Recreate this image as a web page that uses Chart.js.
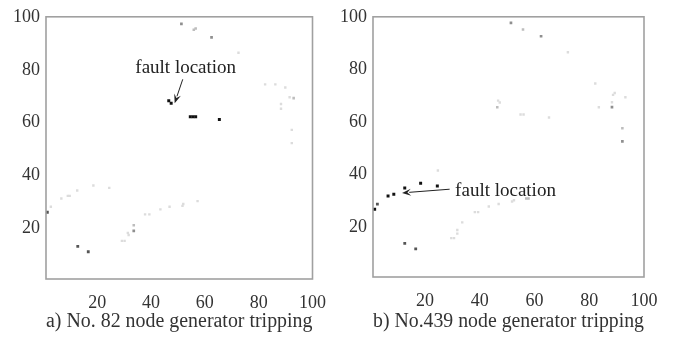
<!DOCTYPE html>
<html>
<head>
<meta charset="utf-8">
<script src="https://cdn.jsdelivr.net/npm/chart.js@4.4.0/dist/chart.umd.min.js"></script>
<style>
  html, body { margin: 0; padding: 0; background: #fff; }
  #wrap { position: relative; width: 678px; height: 343px; overflow: hidden; }
  .panel { position: absolute; top: 0; }
</style>
</head>
<body>
<div id="wrap">
  <div class="panel" style="left:0"><canvas id="ca" width="339" height="343"></canvas></div>
  <div class="panel" style="left:339px"><canvas id="cb" width="339" height="343"></canvas></div>
</div>
<script>
// ---- tick labels ----
const xTicks = [20, 40, 60, 80, 100];
const yTicks = [20, 40, 60, 80, 100];
const axisMin = 1, axisMax = 100;

// ---- captions / annotation text ----
const captionA = 'a) No. 82 node generator tripping';
const captionB = 'b) No.439 node generator tripping';
const faultLabel = 'fault location';

// ---- panel a points, grouped by shade ----
const aBlack = [[46.6,68.3],[47.5,67.4],[54.6,62.3],[55.6,62.3],[56.6,62.3],[65.4,61.2]];
const aDark  = [[12.8,13.3],[16.7,11.3],[1.5,26.2]];
const aMid   = [[51.3,97.3],[62.5,92.2],[33.6,19.2]];
const aLight = [[55.9,95.1],[56.6,95.6],[33.6,21.3],[93,69.3]];
const aFaint = [[2.8,28.3],[6.7,31.4],[9.1,32.4],[9.8,32.4],[12.6,34.4],[18.6,36.3],[24.5,35.4],
  [29.2,15.4],[30.2,15.4],[31.4,18.4],[31.7,17.6],[37.8,25.4],[39.4,25.4],[43.5,27.3],[46.9,28.3],
  [52,29.3],[51.7,28.6],[57.3,30.4],[72.5,86.4],[82.4,74.5],[86.2,74.5],[89.9,73.3],[91.5,69.6],
  [88.3,67.1],[88.3,65.3],[92.3,57.3],[92.3,52.3]];

// ---- panel b points, grouped by shade ----
const bBlack = [[1.6,26.8],[6.5,31.8],[8.6,32.5],[12.6,34.9],[18.4,36.7],[24.5,35.6]];
const bDark  = [[2.6,28.7],[12.6,13.8],[16.6,11.7]];
const bMid   = [[51.4,97.7],[62.4,92.6],[88.3,65.6],[92.1,52.6]];
const bLight = [[55.8,95.2],[46.4,65.6],[92.1,57.6],[57,30.9],[57.8,30.9]];
const bFaint = [[72.2,86.5],[82.2,74.6],[88.7,70.3],[89.3,71],[93.2,69.4],[88.3,67.5],[83.5,65.6],
  [46.7,68.1],[47.3,67.4],[54.9,62.8],[56,62.8],[65.3,61.7],[24.7,41.5],[29.6,15.8],[30.6,15.8],
  [31.8,18.9],[31.8,17.5],[33.6,21.8],[38.2,25.7],[39.4,25.7],[43.3,27.8],[46.9,28.8],[51.8,29.7],
  [52.5,30.2]];

// ---- annotation anchors (data coords) ----
const annA = { text: [52.9, 80.8], from: [51.8, 76.4], to: [48.8, 67.4], align: 'center' };
const annB = { text: [31.0, 33.8], from: [29.0, 34.4], to: [11.6, 33.0], align: 'left' };

const toPts = arr => arr.map(p => ({ x: p[0], y: p[1] }));
const shades = [
  { key: 'Faint', color: '#dcdcdc', r: 1.7 },
  { key: 'Light', color: '#bdbdbd', r: 1.8 },
  { key: 'Mid',   color: '#8f8f8f', r: 1.9 },
  { key: 'Dark',  color: '#555555', r: 2.0 },
  { key: 'Black', color: '#111111', r: 2.1 },
];
const serif = '"Liberation Serif", "Times New Roman", serif';

const frame = {
  id: 'frame',
  afterDraw(chart) {
    const a = chart.chartArea, ctx = chart.ctx;
    ctx.save();
    ctx.strokeStyle = '#a0a0a0';
    ctx.lineWidth = 1.6;
    ctx.strokeRect(a.left, a.top, a.right - a.left, a.bottom - a.top);
    ctx.restore();
  }
};

const annotate = {
  id: 'annotate',
  afterDraw(chart, args, opts) {
    const ann = opts.ann;
    if (!ann) return;
    const xs = chart.scales.x, ys = chart.scales.y, ctx = chart.ctx;
    const px = v => xs.getPixelForValue(v[0]);
    const py = v => ys.getPixelForValue(v[1]);
    ctx.save();
    ctx.fillStyle = '#222';
    ctx.strokeStyle = '#222';
    ctx.font = '19px ' + serif;
    ctx.textAlign = ann.align;
    ctx.textBaseline = 'middle';
    ctx.fillText(faultLabel, px(ann.text), py(ann.text));
    const x1 = px(ann.from), y1 = py(ann.from), x2 = px(ann.to), y2 = py(ann.to);
    const ang = Math.atan2(y2 - y1, x2 - x1);
    const hl = 9, hw = 3.5;
    ctx.lineWidth = 1;
    ctx.beginPath();
    ctx.moveTo(x1, y1);
    ctx.lineTo(x2 - Math.cos(ang) * hl * 0.8, y2 - Math.sin(ang) * hl * 0.8);
    ctx.stroke();
    ctx.beginPath();
    ctx.moveTo(x2, y2);
    ctx.lineTo(x2 - Math.cos(ang) * hl - Math.sin(ang) * hw, y2 - Math.sin(ang) * hl + Math.cos(ang) * hw);
    ctx.lineTo(x2 - Math.cos(ang) * hl * 0.6, y2 - Math.sin(ang) * hl * 0.6);
    ctx.lineTo(x2 - Math.cos(ang) * hl + Math.sin(ang) * hw, y2 - Math.sin(ang) * hl - Math.cos(ang) * hw);
    ctx.closePath();
    ctx.fill();
    ctx.restore();
  }
};

function makeChart(id, groups, caption, ann, yWidth, xHeight, rightPad, titleBottom) {
  const tickFont = { family: serif, size: 18 };
  const capFont = { family: serif, size: 20 };
  const datasets = shades.map(s => ({
    data: toPts(groups[s.key]),
    pointStyle: 'rect',
    pointRadius: s.r,
    pointHoverRadius: s.r,
    backgroundColor: s.color,
    borderColor: s.color,
    borderWidth: 0,
    showLine: false
  }));
  return new Chart(document.getElementById(id), {
    type: 'scatter',
    data: { datasets },
    options: {
      responsive: false,
      animation: false,
      devicePixelRatio: 1,
      layout: { padding: { left: 0, right: rightPad, top: 11, bottom: 0 } },
      plugins: { legend: { display: false }, tooltip: { enabled: false }, annotate: { ann } },
      scales: {
        x: {
          type: 'linear', min: axisMin, max: axisMax,
          grid: { display: false, drawTicks: false },
          border: { display: false },
          ticks: { color: '#333', font: tickFont, padding: 13, maxRotation: 0 },
          afterBuildTicks: s => { s.ticks = xTicks.map(v => ({ value: v })); },
          afterFit: s => { s.height = xHeight; },
          title: { display: true, text: caption, color: '#333', font: capFont, padding: { top: 0, bottom: titleBottom } }
        },
        y: {
          type: 'linear', min: axisMin, max: axisMax,
          grid: { display: false, drawTicks: false },
          border: { display: false },
          ticks: { color: '#333', font: tickFont, padding: 6 },
          afterBuildTicks: s => { s.ticks = yTicks.map(v => ({ value: v })); },
          afterFit: s => { s.width = yWidth; }
        }
      }
    },
    plugins: [frame, annotate]
  });
}

makeChart('ca', { Black: aBlack, Dark: aDark, Mid: aMid, Light: aLight, Faint: aFaint }, captionA, annA, 46, 64, 22, 9);
makeChart('cb', { Black: bBlack, Dark: bDark, Mid: bMid, Light: bLight, Faint: bFaint }, captionB, annB, 34, 66, 34, 9);
</script>
</body>
</html>
